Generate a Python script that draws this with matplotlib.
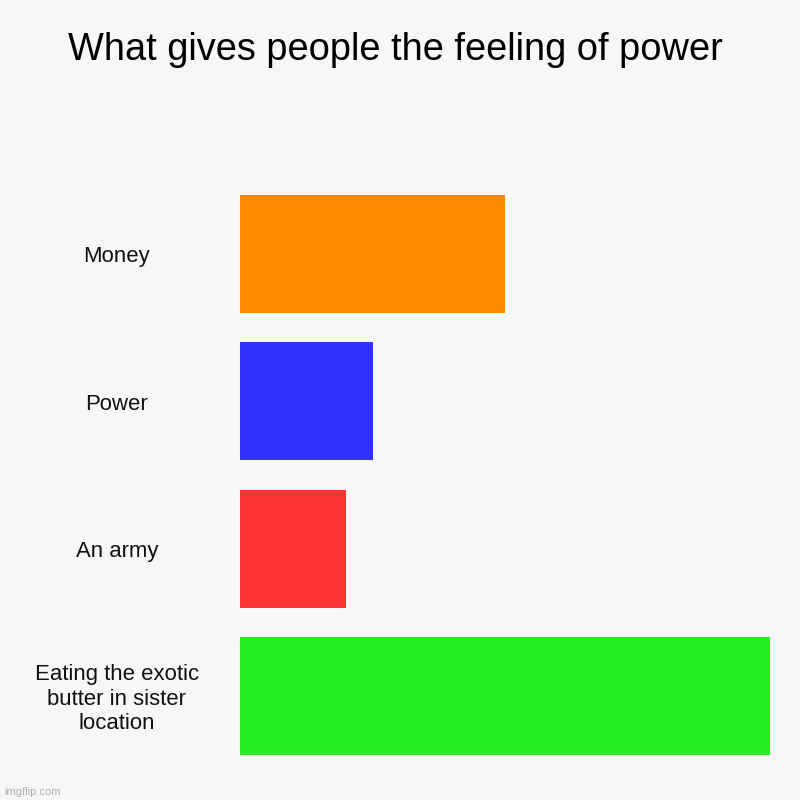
import matplotlib
matplotlib.use('Agg')
import matplotlib.pyplot as plt
import matplotlib.transforms as mtransforms

# chart data
categories = ['Money', 'Power', 'An army', 'Eating the exotic\nbutter in sister\nlocation']
values = [10, 5, 4, 20]
colors = ['#ff8a00', '#3333ff', '#ff3333', '#22ee22']

plt.rcParams['font.family'] = ['Liberation Sans', 'DejaVu Sans']

bg = '#f7f7f7'
fig = plt.figure(figsize=(8, 8), dpi=100, facecolor=bg)
ax = fig.add_axes([0.3, 0.05625, 0.6625, 0.7])
ax.set_facecolor(bg)

ypos = list(range(len(categories)))
ax.barh(ypos, values, height=0.8, color=colors)
ax.set_xlim(0, max(values))
ax.set_ylim(len(categories) - 0.6, -0.4)

# no axes decorations
ax.set_xticks([])
ax.set_yticks([])
for s in ax.spines.values():
    s.set_visible(False)

# category labels centred left of the bars
trans = mtransforms.blended_transform_factory(fig.transFigure, ax.transData)
trans = mtransforms.offset_copy(trans, fig=fig, x=0, y=-3, units='dots')
for y, lab in zip(ypos, categories):
    ax.text(0.146, y, lab, transform=trans, ha='center', va='center',
            fontsize=15.9, color='#111111', linespacing=1.2)

fig.text(0.494, 0.938, 'What gives people the feeling of power', ha='center', va='center',
         fontsize=27.4, color='#000000')

fig.text(0.005, 0.004, 'imgflip.com', ha='left', va='bottom', fontsize=8, color='#b0b0b0')

fig.savefig('out.png', dpi=100, facecolor=bg)
